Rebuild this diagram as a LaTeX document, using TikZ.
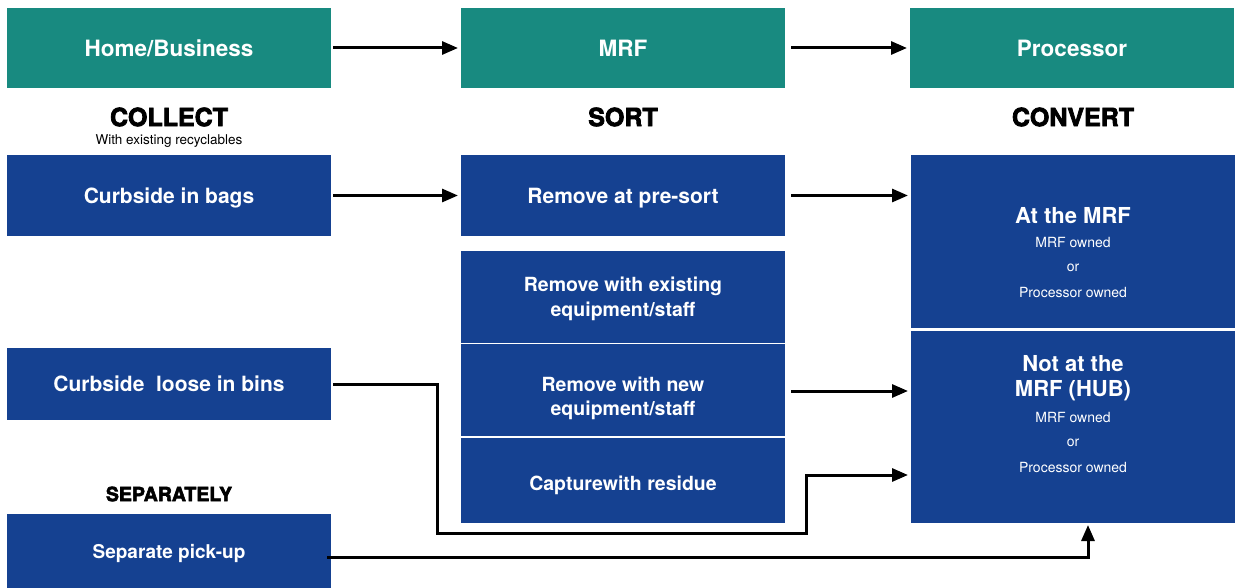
\documentclass[tikz,border=0pt]{standalone}
\usepackage{fontspec}
\setmainfont{TeX Gyre Heros}
\newfontfamily\blackfont{TeX Gyre Heros}[UprightFeatures={FakeBold=3}, BoldFeatures={FakeBold=3}]
\usetikzlibrary{arrows.meta}
\definecolor{tealbg}{RGB}{24,138,128}
\definecolor{bluebg}{RGB}{21,65,145}
\tikzset{
  box/.style={fill=bluebg, draw=none, inner sep=0pt, outer sep=0pt, text=white, align=center, text depth=0pt, font=\bfseries\fontsize{21}{25}\selectfont},
  tealbox/.style={box, fill=tealbg, minimum width=324pt, minimum height=80pt, font=\bfseries\fontsize{22.5}{27}\selectfont},
  head/.style={inner sep=0pt, font=\blackfont\bfseries\fontsize{25}{30}\selectfont},
  sub/.style={inner sep=0pt, font=\fontsize{13.5}{16}\selectfont},
  wtxt/.style={inner sep=0pt, text=white, align=center},
  arr/.style={line width=3pt, -{Triangle[length=16pt,width=13pt]}, shorten <=2pt, shorten >=3pt},
}
\begin{document}
\begin{tikzpicture}[x=1pt,y=-1pt]
\useasboundingbox (0,0) rectangle (1235,588);
% top row
\node[tealbox] (home) at (169,48) {Home/Business};
\node[tealbox] (mrf) at (623,48) {MRF};
\node[tealbox] (proc) at (1072,48) {Processor};
% headings
\node[head] (collect) at (169,117) {COLLECT};
\node[sub] (withex) at (169,141) {With existing recyclables};
\node[head] (sort) at (623,117) {SORT};
\node[head] (convert) at (1073,117) {CONVERT};
\node[head, font=\blackfont\bfseries\fontsize{19.5}{22}\selectfont] (separately) at (169,494) {SEPARATELY};
% collect column
\node[box, minimum width=324pt, minimum height=81pt] (bags) at (169,195.5) {Curbside in bags};
\node[box, minimum width=324pt, minimum height=72pt] (loose) at (169,384) {Curbside\ \ loose in bins};
\node[box, minimum width=324pt, minimum height=75pt, font=\bfseries\fontsize{19}{22}\selectfont] (sep) at (169,551) {Separate pick-up};
% sort column
\node[box, minimum width=324pt, minimum height=81pt] (presort) at (623,195.5) {Remove at pre-sort};
\node[box, minimum width=324pt, minimum height=91pt] (exist) at (623,297) {};
\node[box, minimum width=324pt, minimum height=92pt] (newq) at (623,390) {};
\node[box, minimum width=324pt, minimum height=85pt] (resid) at (623,480.5) {};
\node[wtxt, font=\bfseries\fontsize{19.5}{25}\selectfont] (existt) at (623,299) {Remove with existing\\equipment/staff};
\node[wtxt, font=\bfseries\fontsize{19.5}{24}\selectfont] (newqt) at (623,398) {Remove with new\\equipment/staff};
\node[wtxt, font=\bfseries\fontsize{19.5}{24}\selectfont] (residt) at (623,485) {Capturewith residue};
% convert column
\node[box, minimum width=324pt, minimum height=173pt] (atmrf) at (1073,241.5) {};
\node[box, minimum width=324pt, minimum height=192pt] (notmrf) at (1073,427) {};
\node[wtxt, font=\bfseries\fontsize{22}{25}\selectfont] (t1) at (1073,216) {At the MRF};
\node[wtxt, font=\fontsize{14}{16}\selectfont] (t2) at (1073,243) {MRF owned};
\node[wtxt, font=\fontsize{14}{16}\selectfont] (t3) at (1073,268) {or};
\node[wtxt, font=\fontsize{14}{16}\selectfont] (t4) at (1073,293) {Processor owned};
\node[wtxt, font=\bfseries\fontsize{22}{25}\selectfont] (u1) at (1073,378) {Not at the\\MRF (HUB)};
\node[wtxt, font=\fontsize{14}{16}\selectfont] (u2) at (1073,418) {MRF owned};
\node[wtxt, font=\fontsize{14}{16}\selectfont] (u3) at (1073,443) {or};
\node[wtxt, font=\fontsize{14}{16}\selectfont] (u4) at (1073,468) {Processor owned};
% connectors
\draw[arr] (home.east) -- (mrf.west);
\draw[arr, shorten <=6pt] (mrf.east) -- (mrf.east -| proc.west);
\draw[arr] (bags.east) -- (presort.west);
\draw[arr, shorten <=6pt] (presort.east) -- (presort.east -| atmrf.west);
\draw[arr, shorten <=6pt] ([yshift=-1pt]newq.east) -- ([yshift=-1pt]newq.east -| notmrf.west);
\coordinate (c1) at (437,533);
\coordinate (c2) at (806,475);
\draw[arr] (loose.east) -| (c1) -| (c2) -- (c2 -| notmrf.west);
\draw[arr, shorten <=-4pt, shorten >=2pt] ([yshift=-6pt]sep.east) -| ([xshift=15pt]notmrf.south);
\end{tikzpicture}
\end{document}
